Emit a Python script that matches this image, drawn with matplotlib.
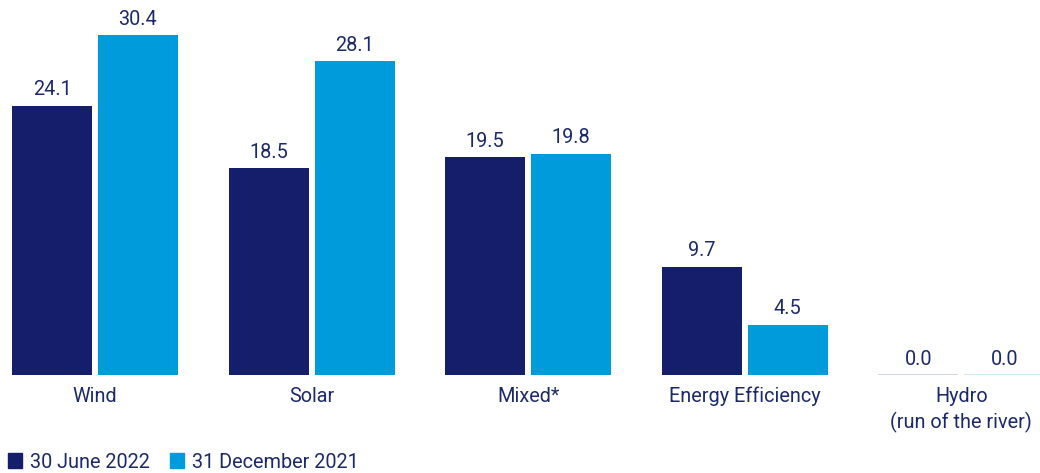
import matplotlib
matplotlib.use("Agg")
import matplotlib.pyplot as plt
from matplotlib.patches import Rectangle
import numpy as np

categories = ["Wind", "Solar", "Mixed*", "Energy Efficiency", "Hydro\n(run of the river)"]
series_names = ["30 June 2022", "31 December 2021"]
june_2022 = [24.1, 18.5, 19.5, 9.7, 0.0]
dec_2021 = [30.4, 28.1, 19.8, 4.5, 0.0]

dark = "#141e6b"
light = "#009bdb"
text_color = "#1c2a6b"
plt.rcParams['font.family'] = ['Roboto', 'DejaVu Sans']
fs = 14.3

W, H = 1040, 473
fig = plt.figure(figsize=(W / 100, H / 100), dpi=100)
ax = fig.add_axes([0, 98 / H, 1, 369 / H])
ax.set_xlim(-0.4386, 4.3630)
ax.set_ylim(0, 33)
ax.axis("off")

x = np.arange(len(categories))
bw = 0.369
off = 0.1985
for vals, sign, col, zc in [(june_2022, -1, dark, "#c9cde0"), (dec_2021, 1, light, "#c4e6f6")]:
    xs = x + sign * off
    ax.bar(xs, vals, width=bw, color=col)
    for xi, v in zip(xs, vals):
        if v == 0:
            ax.hlines(0, xi - bw / 2, xi + bw / 2, color=zc, lw=1.2)
        ax.annotate(f"{v:.1f}", (xi, v), xytext=(0, 4.5), textcoords="offset points",
                    ha="center", va="bottom", fontsize=fs, color=text_color)

for xi, c in zip(x, categories):
    ax.annotate(c, (xi, 0), xytext=(0, -8.5), textcoords="offset points",
                ha="center", va="top", fontsize=fs, color=text_color, linespacing=1.38)

# legend
fig.patches.append(Rectangle((8 / W, 5 / H), 14 / W, 15 / H, transform=fig.transFigure, color=dark))
fig.text(30 / W, 11 / H, series_names[0], fontsize=fs, color=text_color, va="center")
fig.patches.append(Rectangle((170 / W, 5 / H), 14 / W, 15 / H, transform=fig.transFigure, color=light))
fig.text(192 / W, 11 / H, series_names[1], fontsize=fs, color=text_color, va="center")

fig.savefig("out.png", dpi=100)
